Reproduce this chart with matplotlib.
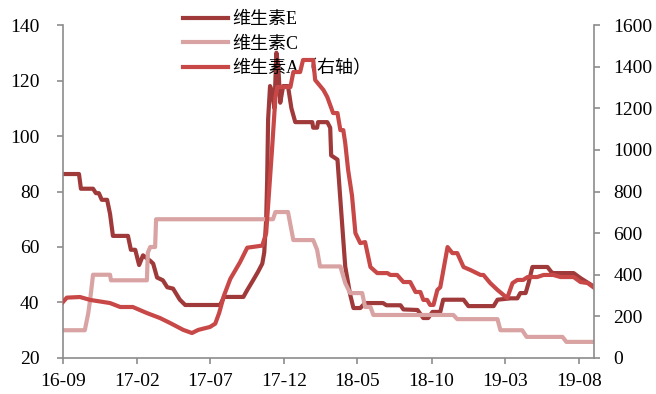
import numpy as np
import pandas as pd
import matplotlib
matplotlib.use("Agg")
import matplotlib.pyplot as plt

plt.rcParams["font.family"] = ["Liberation Serif", "Noto Sans CJK SC"]

start = pd.Timestamp("2016-09-01")

# vitamin E (left axis), days since 2016-09-01
e_days = [0, 33, 37, 62, 68, 74, 80, 91, 97, 103,
          134, 140, 149, 157, 165, 180, 186, 194, 206, 215,
          227, 241, 252, 324, 332, 372, 380, 392, 402, 411,
          415, 419, 421, 423, 427, 431, 436, 440, 444, 448,
          454, 464, 471, 479, 514, 516, 524, 526, 545, 551,
          553, 566, 572, 582, 592, 599, 613, 623, 660, 667,
          696, 702, 731, 743, 753, 762, 778, 784, 826, 836,
          888, 896, 923, 937, 943, 954, 960, 968, 999, 1007,
          1011, 1053, 1067, 1096]
e_vals = [86.3, 86.3, 81, 81, 79.4, 79.4, 77, 77, 72, 64,
          64, 59, 59, 53.5, 57, 55, 54, 49, 48, 45.5,
          45, 41, 39.1, 39.1, 42, 42, 44.5, 48, 51, 54,
          58, 70, 84, 106, 118, 116, 110, 130, 125, 112,
          118, 118, 110, 105, 105, 103, 103, 105, 105, 103,
          93, 91.5, 77, 53, 43, 38, 38, 39.8, 39.8, 39,
          39, 37.5, 37.3, 34.4, 34.4, 36.6, 36.6, 41, 41, 38.7,
          38.7, 41, 41.5, 41.5, 43.4, 43.4, 47, 52.8, 52.8, 51,
          50.6, 50.6, 48.8, 45.6]

# vitamin C (left axis)
c_days = [0, 45, 52, 56, 62, 97, 99, 173, 175, 180,
          190, 192, 433, 438, 464, 469, 475, 516, 524, 530,
          572, 582, 592, 617, 623, 634, 640, 805, 813, 896,
          902, 947, 956, 1030, 1038, 1096]
c_vals = [30, 30, 36, 41, 50, 50, 48, 48, 58, 60,
          60, 70, 70, 72.6, 72.6, 68, 62.5, 62.5, 59, 53,
          53, 47, 43.4, 43.4, 38.4, 38.4, 35.5, 35.5, 34, 34,
          30, 30, 27.6, 27.6, 25.8, 25.8]

# vitamin A (right axis)
a_days = [0, 8, 35, 56, 97, 118, 144, 173, 200, 221,
          248, 266, 279, 303, 314, 322, 332, 345, 365, 380,
          411, 419, 425, 431, 438, 442, 469, 475, 489, 495,
          516, 520, 537, 545, 557, 566, 572, 578, 582, 588,
          596, 603, 613, 623, 634, 648, 669, 675, 689, 702,
          716, 727, 737, 743, 751, 757, 764, 772, 778, 793,
          803, 813, 826, 840, 861, 867, 881, 896, 916, 927,
          937, 949, 958, 978, 991, 1011, 1026, 1053, 1067, 1082,
          1096]
a_vals = [269, 290, 293, 279, 264, 245, 245, 216, 192, 168,
          135, 120, 135, 149, 165, 216, 300, 380, 460, 530,
          540, 600, 800, 1000, 1250, 1302, 1302, 1374, 1374, 1432,
          1432, 1336, 1288, 1254, 1177, 1177, 1095, 1095, 1033, 903,
          780, 600, 552, 557, 437, 408, 408, 399, 399, 365,
          365, 317, 317, 279, 279, 255, 255, 327, 340, 533,
          504, 504, 437, 423, 399, 399, 360, 327, 288, 360,
          375, 375, 389, 389, 399, 399, 389, 389, 365, 360,
          336]

tick_labels = ["16-09", "17-02", "17-07", "17-12", "18-05", "18-10", "19-03", "19-08"]

col_e = "#A03A3A"
col_c = "#D9A3A3"
col_a = "#C84848"
grey = "#8C8C8C"


def to_dates(days):
    return start + pd.to_timedelta(np.array(days), unit="D")


fig = plt.figure(figsize=(6.56, 3.94), dpi=100)
ax = fig.add_axes([0.096, 0.0914, 0.8095, 0.8451])
ax2 = ax.twinx()

l1, = ax.plot(to_dates(e_days), e_vals, color=col_e, lw=3, label="维生素E")
l2, = ax.plot(to_dates(c_days), c_vals, color=col_c, lw=3, label="维生素C")
l3, = ax2.plot(to_dates(a_days), a_vals, color=col_a, lw=3, label="维生素A（右轴）")

ax.set_ylim(20, 140)
ax.set_yticks(np.arange(20, 141, 20))
ax2.set_ylim(0, 1600)
ax2.set_yticks(np.arange(0, 1601, 200))

ticks = [pd.Timestamp("20" + t + "-01") for t in tick_labels]
ax.set_xticks(ticks)
ax.set_xticklabels(tick_labels)
ax.set_xlim(start, pd.Timestamp("2019-09-01"))

for a in (ax, ax2):
    a.spines["top"].set_visible(False)
    for s in ("left", "right", "bottom"):
        a.spines[s].set_color(grey)
        a.spines[s].set_linewidth(1.2)
    a.tick_params(colors=grey, labelcolor="black", labelsize=14, width=1.2, length=4)
ax.spines["right"].set_visible(False)
ax2.spines["left"].set_visible(False)
ax2.spines["bottom"].set_visible(False)
ax.tick_params(axis="y", pad=13)
ax2.tick_params(axis="y", pad=10)
ax.tick_params(axis="x", pad=7)

ax.legend([l1, l2, l3], [l1.get_label(), l2.get_label(), l3.get_label()],
          loc="upper left", bbox_to_anchor=(183 / 656, 1 - 11 / 394),
          bbox_transform=fig.transFigure, frameon=False, fontsize=13,
          handlelength=2.5, handletextpad=0.25, labelspacing=0.42,
          borderpad=0, borderaxespad=0)

fig.savefig("out.png", dpi=100)
